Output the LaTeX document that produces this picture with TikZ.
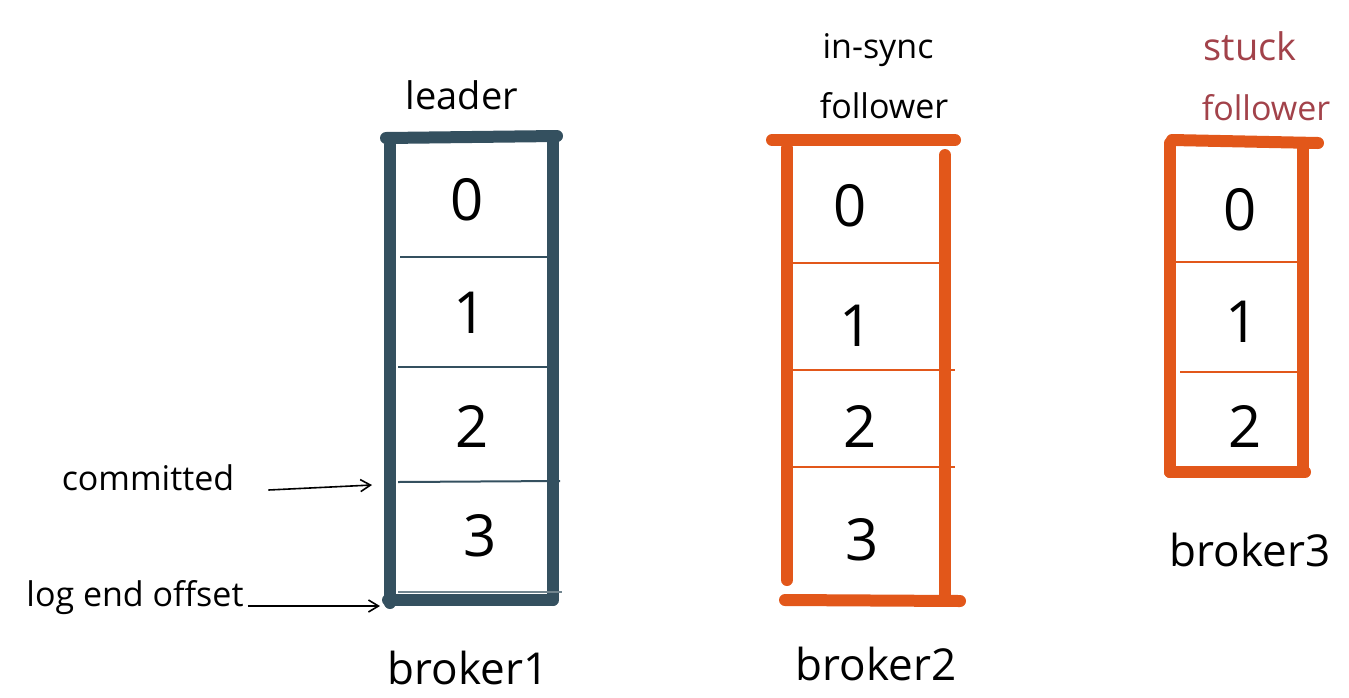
\documentclass[tikz,border=0pt]{standalone}
\usepackage{fontspec}
\setmainfont{Open Sans}
\usetikzlibrary{arrows.meta}
\definecolor{slate}{HTML}{34505F}
\definecolor{orng}{HTML}{E2571A}
\definecolor{stuckc}{HTML}{A2424A}
\tikzset{
  thick frame/.style={line width=12pt, line cap=round},
  divider/.style={line width=2pt},
  lbl/.style={inner sep=0pt, font=\fontsize{34}{40}\selectfont, text=black},
  num/.style={inner sep=0pt, font=\fontsize{58}{60}\selectfont, text=black},
  brk/.style={inner sep=0pt, font=\fontsize{44}{50}\selectfont, text=black},
  pointer/.style={line width=1.6pt, -{Straight Barb[length=10pt,width=12pt]}}
}
\begin{document}
\begin{tikzpicture}[x=1pt,y=-1pt]
\useasboundingbox (0,0) rectangle (1349,697);
% broker1
\draw[thick frame, slate] (390,145) -- (390,603);
\draw[thick frame, slate] (553,140) -- (553,600);
\draw[thick frame, slate] (386,138) -- (557,136);
\draw[thick frame, slate] (388,600) -- (552,600);
\draw[divider, slate] (400,257) -- (550,257);
\draw[divider, slate] (398,367) -- (552,367);
\draw[divider, slate] (398,482) -- (560,481);
\draw[divider, slate!70] (398,592) -- (562,592);
\node[num] (b1n0) at (467,200) {0};
\node[num] (b1n1) at (470,313) {1};
\node[num] (b1n2) at (472,426) {2};
\node[num] (b1n3) at (480,536) {3};
\node[lbl, font=\fontsize{38}{40}\selectfont] (leader) at (462,95) {leader};
\node[brk] (broker1) at (468,668) {broker1};
\node[lbl] (committed) at (148,478) {committed};
\node[lbl] (leo) at (135,598) {log end offset};
\coordinate (cmtpt) at (372,485);
\coordinate (leopt) at (380,606);
\draw[pointer] (committed.east) ++(34,12) coordinate (cmtstart) -- (cmtpt);
\draw[pointer] (leo.east) ++(4,8) coordinate (leostart) -- (leopt);
% broker2
\draw[thick frame, orng] (787,148) -- (787,580);
\draw[thick frame, orng] (945,155) -- (945,595);
\draw[thick frame, orng] (772,140) -- (955,140);
\draw[thick frame, orng] (785,600) -- (960,601);
\draw[divider, orng] (790,263) -- (945,263);
\draw[divider, orng] (790,370) -- (955,370);
\draw[divider, orng] (790,467) -- (955,467);
\node[num] (b2n0) at (850,206) {0};
\node[num] (b2n1) at (856,326) {1};
\node[num] (b2n2) at (860,426) {2};
\node[num] (b2n3) at (862,540) {3};
\node[lbl] (insync) at (878,50) {in-sync};
\node[lbl] (follower2) at (884,106) {follower};
\node[brk] (broker2) at (876,664) {broker2};
% broker3
\draw[thick frame, orng] (1170,143) -- (1170,472);
\draw[thick frame, orng] (1303,145) -- (1303,472);
\draw[thick frame, orng] (1172,140) -- (1318,143);
\draw[thick frame, orng] (1170,472) -- (1305,472);
\draw[divider, orng] (1175,262) -- (1300,262);
\draw[divider, orng] (1180,372) -- (1300,372);
\node[num] (b3n0) at (1240,210) {0};
\node[num] (b3n1) at (1242,322) {1};
\node[num] (b3n2) at (1245,426) {2};
\node[lbl, text=stuckc, font=\fontsize{38}{40}\selectfont] (stuck) at (1250,46) {stuck};
\node[lbl, text=stuckc] (follower3) at (1266,108) {follower};
\node[brk] (broker3) at (1250,550) {broker3};
\end{tikzpicture}
\end{document}
